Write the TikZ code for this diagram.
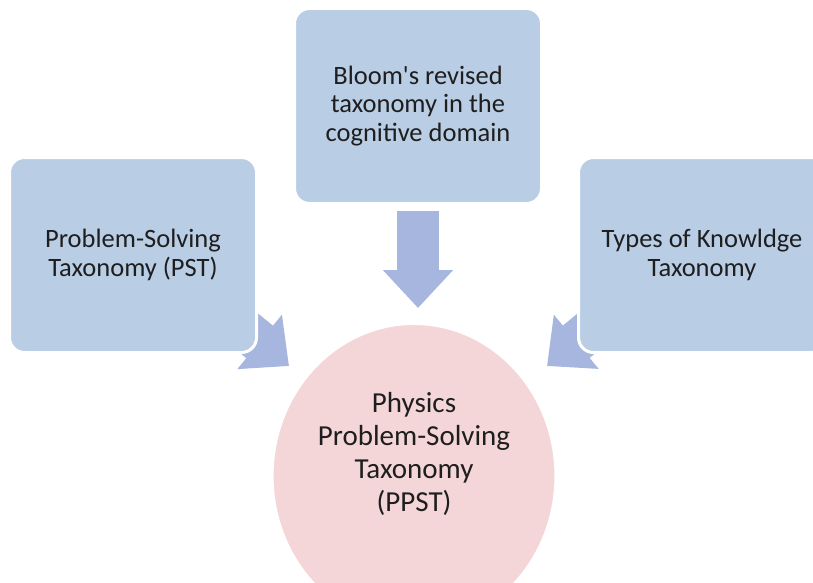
\documentclass[tikz,border=0pt]{standalone}
\usepackage{fontspec}
\setmainfont{Carlito}
\usetikzlibrary{arrows.meta,calc,shapes.geometric,backgrounds}

\definecolor{boxblue}{RGB}{185,205,229}
\definecolor{arrowblue}{RGB}{166,182,222}
\definecolor{goalpink}{RGB}{244,214,216}
\definecolor{txtgray}{RGB}{30,30,30}

\begin{document}
\begin{tikzpicture}[x=1pt,y=-1pt,
    taxbox/.style={draw=white,line width=3pt,fill=boxblue,rectangle,rounded corners=15pt,minimum width=247pt,minimum height=195pt,align=center,text=txtgray,font=\fontsize{26.5pt}{28.5pt}\selectfont},
    goal/.style={draw=white,line width=2pt,fill=goalpink,ellipse,minimum width=282pt,minimum height=304pt,inner sep=0pt,text=txtgray},
    flow/.style={draw=arrowblue,line width=42pt,-{Triangle[width=68pt,length=38pt]}}]

        \clip (0,0) rectangle (813,583);

        \node [taxbox] (bloom) at (418,106) {Bloom\textquotesingle s revised\\taxonomy in the\\cognitive domain};
        \node [taxbox] (pst) at (133,255) {Problem-Solving\\Taxonomy (PST)};
        \node [taxbox] (tkt) at (702,255) {Types of Knowldge\\Taxonomy};
        \node [goal] (ppst) at (414,476) {\parbox[c][168pt][t]{200pt}{\centering\fontsize{29pt}{33pt}\selectfont Physics\\Problem-Solving\\Taxonomy\\(PPST)}};

        \coordinate (downtip) at (418,308);
        \coordinate (lefttip) at (289,366);
        \coordinate (righttip) at (547,366);
        \path (pst.center) ++(45,20) coordinate (leftfrom);
        \path (tkt.center) ++(-45,20) coordinate (rightfrom);

        \begin{scope}[on background layer]
          \draw [flow, shorten <=6pt] (bloom) -- (downtip);
          \draw [flow] (leftfrom) -- (lefttip);
          \draw [flow] (rightfrom) -- (righttip);
        \end{scope}
        \end{tikzpicture}
\end{document}
